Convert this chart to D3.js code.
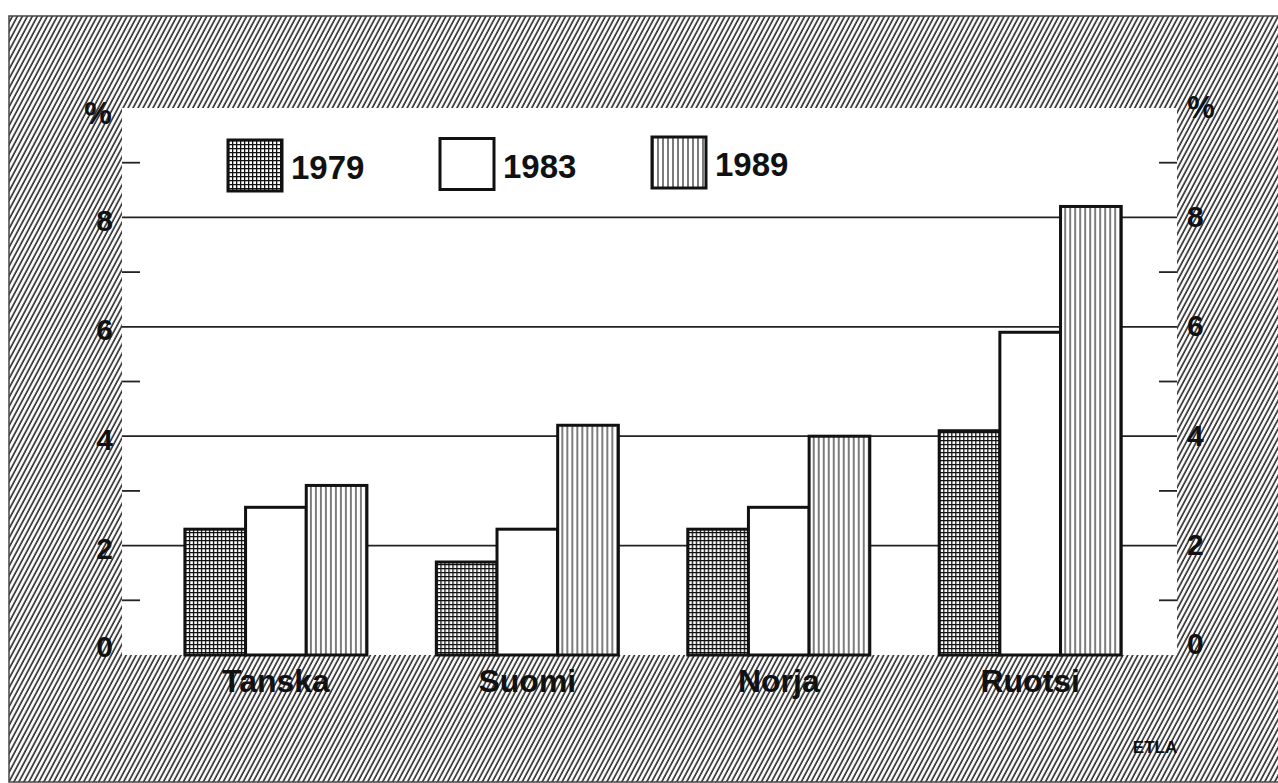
<!DOCTYPE html>
<html>
<head>
<meta charset="utf-8">
<script src="https://cdn.jsdelivr.net/npm/d3@7"></script>
<style>
  body { margin: 0; background: #fff; }
  text { font-family: "Liberation Sans", Arial, Helvetica, sans-serif; font-weight: bold; fill: #111; }
</style>
</head>
<body>
<div id="chart"></div>
<script>
// data (percent)
var countries = ["Tanska", "Suomi", "Norja", "Ruotsi"];
var years = ["1979", "1983", "1989"];
var v1979 = [2.3, 1.7, 2.3, 4.1];
var v1983 = [2.7, 2.3, 2.7, 5.9];
var v1989 = [3.1, 4.2, 4.0, 8.2];
var majorTicks = [0, 2, 4, 6, 8];
var minorTicks = [1, 3, 5, 7, 9];

var seriesValues = { "1979": v1979, "1983": v1983, "1989": v1989 };
var fills = { "1979": "url(#cross)", "1983": "#fff", "1989": "url(#vlines)" };

var svgWidth = 1278, svgHeight = 783;

// plot area (white box)
var plot = { left: 122, top: 108, right: 1177, bottom: 655 };

var svg = d3.select("#chart").append("svg")
    .attr("width", svgWidth)
    .attr("height", svgHeight);

var defs = svg.append("defs");

// diagonal hatch for the frame
var hatch = defs.append("pattern")
    .attr("id", "hatch")
    .attr("patternUnits", "userSpaceOnUse")
    .attr("width", 4.4)
    .attr("height", 4.4)
    .attr("patternTransform", "rotate(28)");
hatch.append("rect").attr("width", 4.4).attr("height", 4.4).attr("fill", "#fbfbfb");
hatch.append("line")
    .attr("x1", 1).attr("y1", 0).attr("x2", 1).attr("y2", 4.4)
    .attr("stroke", "#2a2a2a").attr("stroke-width", 1.6);

// crosshatch for 1979
var cross = defs.append("pattern")
    .attr("id", "cross")
    .attr("patternUnits", "userSpaceOnUse")
    .attr("width", 4)
    .attr("height", 4);
cross.append("rect").attr("width", 4).attr("height", 4).attr("fill", "#fff");
cross.append("path")
    .attr("d", "M0,0.6H4M0.6,0V4")
    .attr("stroke", "#111").attr("stroke-width", 1.4);

// vertical lines for 1989
var vlines = defs.append("pattern")
    .attr("id", "vlines")
    .attr("patternUnits", "userSpaceOnUse")
    .attr("width", 5)
    .attr("height", 5);
vlines.append("rect").attr("width", 5).attr("height", 5).attr("fill", "#fff");
vlines.append("line")
    .attr("x1", 1).attr("y1", 0).attr("x2", 1).attr("y2", 5)
    .attr("stroke", "#111").attr("stroke-width", 1.1);

// hatched frame
svg.append("rect")
    .attr("x", 9).attr("y", 16)
    .attr("width", svgWidth).attr("height", svgHeight - 17)
    .attr("fill", "url(#hatch)")
    .attr("stroke", "#444").attr("stroke-width", 1.5);

// white plot box
svg.append("rect")
    .attr("x", plot.left).attr("y", plot.top)
    .attr("width", plot.right - plot.left).attr("height", plot.bottom - plot.top)
    .attr("fill", "#fff");

// scales
var yScale = d3.scaleLinear().domain([0, 10]).range([plot.bottom, plot.top]);

var x0 = d3.scaleBand()
    .domain(countries)
    .range([plot.left, plot.right])
    .paddingInner(0.276)
    .paddingOuter(0.236)
    .align(0.53);

var x1 = d3.scaleBand()
    .domain(years)
    .range([0, x0.bandwidth()]);

// gridlines
svg.append("g").selectAll("line")
    .data(majorTicks.filter(d => d > 0))
    .enter().append("line")
    .attr("x1", plot.left).attr("x2", plot.right)
    .attr("y1", d => yScale(d)).attr("y2", d => yScale(d))
    .attr("stroke", "#222").attr("stroke-width", 1.8);

// minor ticks on both sides
var minorG = svg.append("g");
minorG.selectAll(".tl").data(minorTicks).enter().append("line")
    .attr("x1", plot.left).attr("x2", plot.left + 18)
    .attr("y1", d => yScale(d)).attr("y2", d => yScale(d))
    .attr("stroke", "#222").attr("stroke-width", 1.8);
minorG.selectAll(".tr").data(minorTicks).enter().append("line")
    .attr("x1", plot.right - 18).attr("x2", plot.right)
    .attr("y1", d => yScale(d)).attr("y2", d => yScale(d))
    .attr("stroke", "#222").attr("stroke-width", 1.8);

// bars
var groups = svg.append("g").selectAll("g")
    .data(countries)
    .enter().append("g")
    .attr("transform", d => `translate(${x0(d)},0)`);

groups.selectAll("rect")
    .data((c, i) => years.map(y => ({ year: y, value: seriesValues[y][i] })))
    .enter().append("rect")
    .attr("x", d => x1(d.year))
    .attr("y", d => yScale(d.value))
    .attr("width", x1.bandwidth())
    .attr("height", d => yScale(0) - yScale(d.value))
    .attr("fill", d => fills[d.year])
    .attr("stroke", "#111")
    .attr("stroke-width", 3);

// y tick labels, left and right
var labelG = svg.append("g").style("font-size", "30px");
labelG.selectAll(".yl").data(majorTicks).enter().append("text")
    .attr("x", plot.left - 9)
    .attr("y", d => yScale(d) + (d === 0 ? -9 : 3))
    .attr("text-anchor", "end")
    .attr("dominant-baseline", "central")
    .text(d => d);
labelG.selectAll(".yr").data(majorTicks).enter().append("text")
    .attr("x", plot.right + 10)
    .attr("y", d => yScale(d) + (d === 0 ? -12 : -1))
    .attr("text-anchor", "start")
    .attr("dominant-baseline", "central")
    .text(d => d);

// percent signs
svg.append("text")
    .attr("x", 98).attr("y", 124)
    .attr("text-anchor", "middle")
    .style("font-size", "31px")
    .text("%");
svg.append("text")
    .attr("x", 1201).attr("y", 118)
    .attr("text-anchor", "middle")
    .style("font-size", "31px")
    .text("%");

// category labels
svg.append("g").selectAll("text")
    .data(countries)
    .enter().append("text")
    .attr("x", d => x0(d) + x0.bandwidth() / 2)
    .attr("y", 692)
    .attr("text-anchor", "middle")
    .style("font-size", "32px")
    .text(d => d);

// legend
var legend = svg.append("g").selectAll("g")
    .data(years)
    .enter().append("g")
    .attr("transform", (d, i) => `translate(${228 + i * 212},${140 - i * 1.5})`);

legend.append("rect")
    .attr("width", 54).attr("height", 51)
    .attr("fill", d => fills[d])
    .attr("stroke", "#111")
    .attr("stroke-width", 3);

legend.append("text")
    .attr("x", 63).attr("y", 39)
    .style("font-size", "33px")
    .text(d => d);

// source
svg.append("text")
    .attr("x", 1155).attr("y", 753)
    .attr("text-anchor", "middle")
    .style("font-size", "17px")
    .text("ETLA");
</script>
</body>
</html>
